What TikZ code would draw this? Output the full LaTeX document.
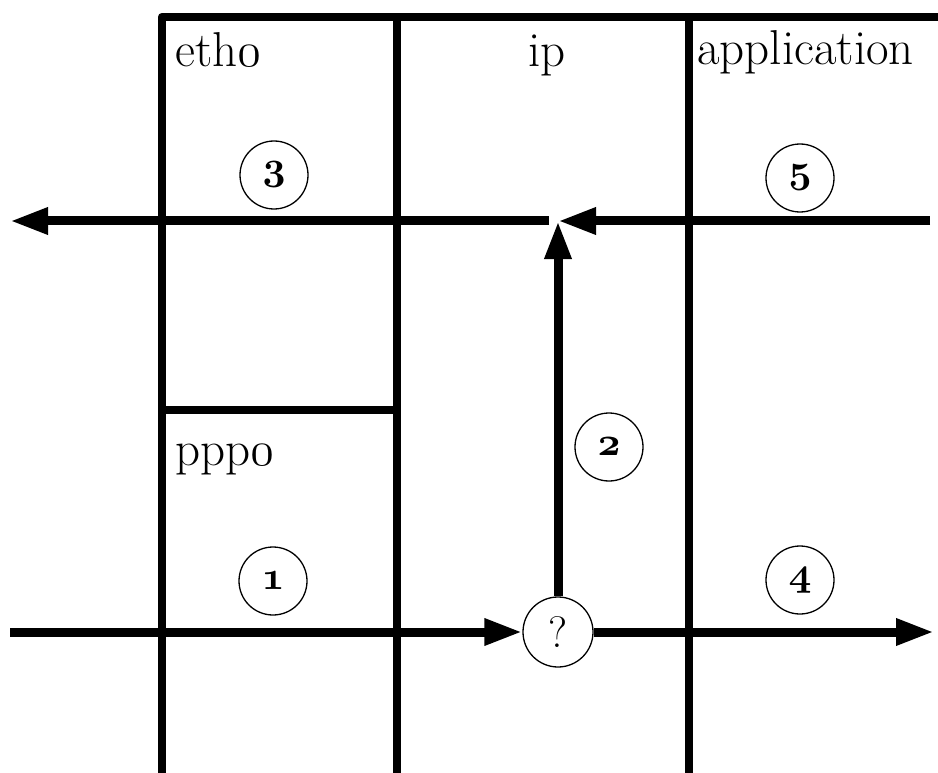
\documentclass[tikz,border=0pt]{standalone}
\usetikzlibrary{arrows.meta}
% old-style figures from the Computer Modern math italic fonts, at fixed sizes
\font\osfreg=cmmi12 at 48pt
\font\osfbold=cmmib10 at 40pt
\newcommand\osfig[1]{{\osfreg #1}}
\newcommand\osfigb[1]{{\osfbold #1}}
\begin{document}
\begin{tikzpicture}[x=1pt,y=-1pt,
  wall/.style={line width=8.5pt},
  flow/.style={line width=9pt,-{Triangle[length=38pt,width=25pt]}},
  stepmark/.style={circle,draw,line width=1.3pt,minimum size=68pt,inner sep=0pt,
    font=\fontsize{40}{42}\selectfont},
  layer/.style={anchor=base west,inner sep=0pt,font=\fontsize{49}{53}\selectfont}]
\useasboundingbox (0,0) rectangle (938,773);

% frame of the layer columns
\coordinate (tl) at (162,17);
\coordinate (tr) at (938,17);
\coordinate (lb) at (162,773);
\coordinate (m1t) at (397,17);
\coordinate (m1b) at (397,773);
\coordinate (m2t) at (689,17);
\coordinate (m2b) at (689,773);
\coordinate (sepl) at (162,410);
\coordinate (sepr) at (397,410);
\draw[wall,line join=round] (tr) -- (tl) -- (lb);
\draw[wall] (m1t) -- (m1b);
\draw[wall] (m2t) -- (m2b);
\draw[wall] (sepl) -- (sepr);

% layer names
\node[layer] (eth) at (175,67) {eth\osfig{0}};
\node[layer] (ip) at (528,67) {ip};
\node[layer] (app) at (697,65) {application};
\node[layer] (ppp) at (175,465) {ppp\osfig{0}};

% packet paths
\node[stepmark,minimum size=70pt,font=\fontsize{44}{46}\selectfont] (q) at (558,632) {?};
\coordinate (inL) at (10,632);
\coordinate (outR) at (934,632);
\coordinate (J) at (558,221);
\coordinate (inR) at (930,221);
\coordinate (outL) at (10,221);
\draw[flow] (inL) -- (q);
\draw[flow] (q) -- (outR);
\draw[flow] (q) -- (J);
\draw[flow] (inR) -- (J);
\draw[flow] ([xshift=-9pt]J) -- (outL);

% step numbers
\node[stepmark] (s1) at (273,581) {\osfigb{1}};
\node[stepmark] (s2) at (609,447) {\osfigb{2}};
\node[stepmark] (s3) at (274,175) {\osfigb{3}};
\node[stepmark] (s4) at (800,580) {\osfigb{4}};
\node[stepmark] (s5) at (800,178) {\osfigb{5}};
\end{tikzpicture}
\end{document}
